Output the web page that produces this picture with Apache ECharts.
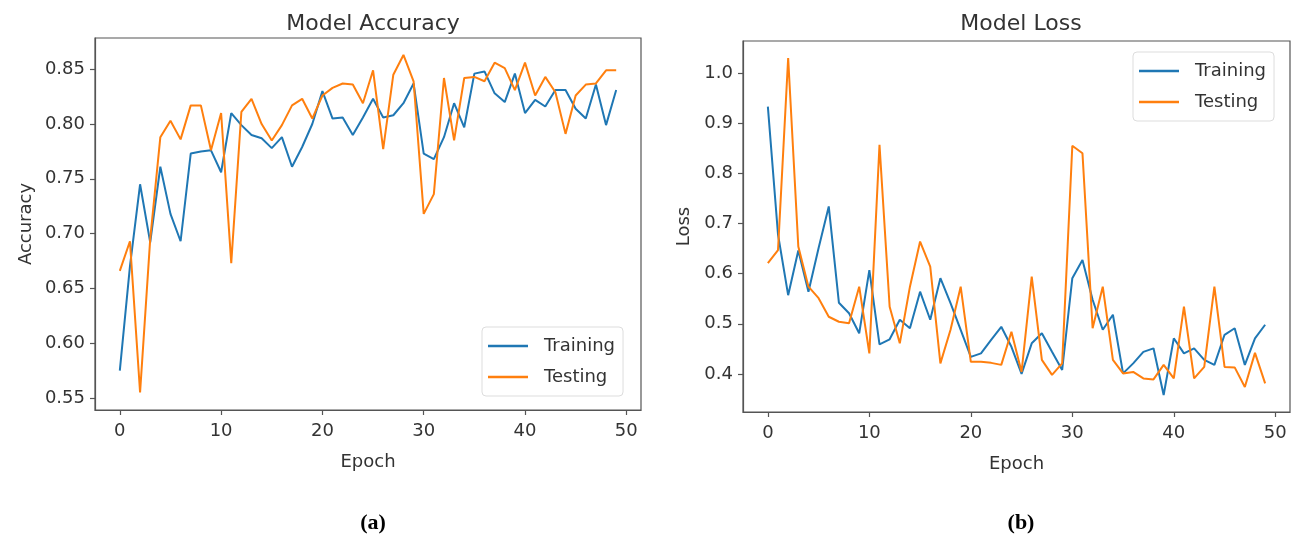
<!DOCTYPE html>
<html>
<head>
<meta charset="utf-8">
<script src="https://cdn.jsdelivr.net/npm/echarts@6/dist/echarts.min.js"></script>
<style>html,body{margin:0;padding:0;background:#fff}#c{width:1295px;height:540px}</style>
</head>
<body>
<div id="c"></div>
<script>
const epochs = Array.from({length: 50}, (_, i) => i);
const accTrain = [0.575,0.670,0.745,0.692,0.761,0.718,0.693,0.773,0.775,0.776,
  0.756,0.810,0.799,0.790,0.787,0.778,0.788,0.761,0.779,0.800,
  0.830,0.805,0.806,0.790,0.806,0.823,0.806,0.808,0.819,0.837,
  0.773,0.768,0.788,0.819,0.797,0.846,0.848,0.828,0.820,0.846,
  0.810,0.822,0.816,0.831,0.831,0.814,0.805,0.836,0.799,0.831];
const accTest = [0.666,0.693,0.555,0.695,0.788,0.803,0.786,0.817,0.817,0.776,
  0.810,0.673,0.811,0.823,0.800,0.785,0.799,0.817,0.823,0.805,
  0.826,0.833,0.837,0.836,0.819,0.849,0.777,0.845,0.863,0.839,
  0.718,0.736,0.842,0.785,0.842,0.843,0.839,0.856,0.851,0.831,
  0.856,0.826,0.843,0.829,0.791,0.826,0.836,0.837,0.849,0.849];
const lossTrain = [0.933,0.678,0.557,0.646,0.564,0.651,0.734,0.542,0.521,0.481,
  0.607,0.459,0.469,0.508,0.491,0.564,0.508,0.591,0.541,0.488,
  0.434,0.441,0.468,0.494,0.454,0.400,0.461,0.481,0.444,0.408,
  0.591,0.627,0.548,0.488,0.518,0.401,0.421,0.444,0.451,0.358,
  0.471,0.441,0.451,0.428,0.418,0.478,0.491,0.418,0.471,0.498];
const lossTest = [0.621,0.647,1.030,0.654,0.574,0.551,0.514,0.504,0.501,0.574,
  0.441,0.857,0.534,0.461,0.574,0.664,0.614,0.421,0.488,0.574,
  0.424,0.424,0.422,0.418,0.484,0.404,0.594,0.428,0.398,0.421,
  0.855,0.840,0.491,0.574,0.428,0.401,0.404,0.391,0.389,0.418,
  0.391,0.534,0.391,0.414,0.574,0.414,0.413,0.374,0.442,0.381];
const xTicks = [0,10,20,30,40,50];
const accTicks = [0.55,0.60,0.65,0.70,0.75,0.80,0.85];
const lossTicks = [0.4,0.5,0.6,0.7,0.8,0.9,1.0];
const titles = ['Model Accuracy','Model Loss'];
const captions = ['(a)','(b)'];

const pair = arr => epochs.map((e, i) => [e, arr[i]]);
const font = 'DejaVu Sans';
const txt = '#333';
const frame = '#555';

function xAxisFor(gi) {
  return {
    type: 'value', gridIndex: gi, min: -2.45, max: 51.45,
    name: 'Epoch', nameLocation: 'middle', nameGap: 43,
    nameTextStyle: {fontFamily: font, fontSize: 18, color: txt},
    axisLine: {show: true, onZero: false, lineStyle: {color: frame, width: 1.2}},
    axisTick: {show: true, length: 5, inside: false, customValues: xTicks, lineStyle: {color: frame, width: 1.2}},
    axisLabel: {margin: 12, fontFamily: font, fontSize: 18, color: txt, customValues: xTicks},
    splitLine: {show: false}
  };
}
function yAxisFor(gi, min, max, ticks, dec, name, gap) {
  return {
    type: 'value', gridIndex: gi, min: min, max: max,
    name: name, nameLocation: 'middle', nameGap: gap, nameRotate: 90,
    nameTextStyle: {fontFamily: font, fontSize: 18, color: txt},
    axisLine: {show: true, onZero: false, lineStyle: {color: frame, width: 1.2}},
    axisTick: {show: true, length: 5, inside: false, customValues: ticks, lineStyle: {color: frame, width: 1.2}},
    axisLabel: {margin: 10, fontFamily: font, fontSize: 18, color: txt, customValues: ticks,
      formatter: v => Number(v).toFixed(dec)},
    splitLine: {show: false}
  };
}
function lineSeries(name, data, gi, color) {
  return {
    type: 'line', name: name, xAxisIndex: gi, yAxisIndex: gi, data: pair(data),
    symbol: 'none', showSymbol: false, smooth: false,
    lineStyle: {color: color, width: 2}, itemStyle: {color: color}
  };
}
const legendBase = {
  orient: 'vertical', icon: 'rect', itemWidth: 40, itemHeight: 2.5, itemGap: 11,
  padding: [9, 8, 9, 6], borderColor: '#ddd', borderWidth: 1, borderRadius: 4,
  backgroundColor: 'rgba(255,255,255,0.85)',
  textStyle: {fontFamily: font, fontSize: 18, color: txt, lineHeight: 20, padding: [0, 0, 0, 11]},
  data: ['Training', 'Testing']
};

const chart = echarts.init(document.getElementById('c'), null, {renderer: 'canvas'});
chart.setOption({
  animation: false,
  backgroundColor: '#fff',
  title: [
    {text: titles[0], left: 368, top: 8, textAlign: 'center', textStyle: {fontFamily: font, fontSize: 22, fontWeight: 'normal', color: txt}},
    {text: titles[1], left: 1016, top: 8, textAlign: 'center', textStyle: {fontFamily: font, fontSize: 22, fontWeight: 'normal', color: txt}},
    {text: captions[0], left: 368, top: 507, textAlign: 'center', textStyle: {fontFamily: 'Liberation Serif', fontSize: 22, fontWeight: 'bold', color: '#000'}},
    {text: captions[1], left: 1016, top: 507, textAlign: 'center', textStyle: {fontFamily: 'Liberation Serif', fontSize: 22, fontWeight: 'bold', color: '#000'}}
  ],
  legend: [
    Object.assign({}, legendBase, {left: 482, top: 327}),
    Object.assign({}, legendBase, {left: 1133, top: 52})
  ],
  grid: [
    {left: 95, right: 654, top: 38, bottom: 130, show: true, borderColor: frame, borderWidth: 1.2, backgroundColor: 'transparent'},
    {left: 743, right: 5, top: 41, bottom: 128, show: true, borderColor: frame, borderWidth: 1.2, backgroundColor: 'transparent'}
  ],
  xAxis: [xAxisFor(0), xAxisFor(1)],
  yAxis: [
    yAxisFor(0, 0.539, 0.8785, accTicks, 2, 'Accuracy', 60),
    yAxisFor(1, 0.324, 1.064, lossTicks, 1, 'Loss', 50)
  ],
  series: [
    lineSeries('Training', accTrain, 0, '#1f77b4'),
    lineSeries('Testing', accTest, 0, '#ff7f0e'),
    lineSeries('Training', lossTrain, 1, '#1f77b4'),
    lineSeries('Testing', lossTest, 1, '#ff7f0e')
  ]
});
</script>
</body>
</html>
